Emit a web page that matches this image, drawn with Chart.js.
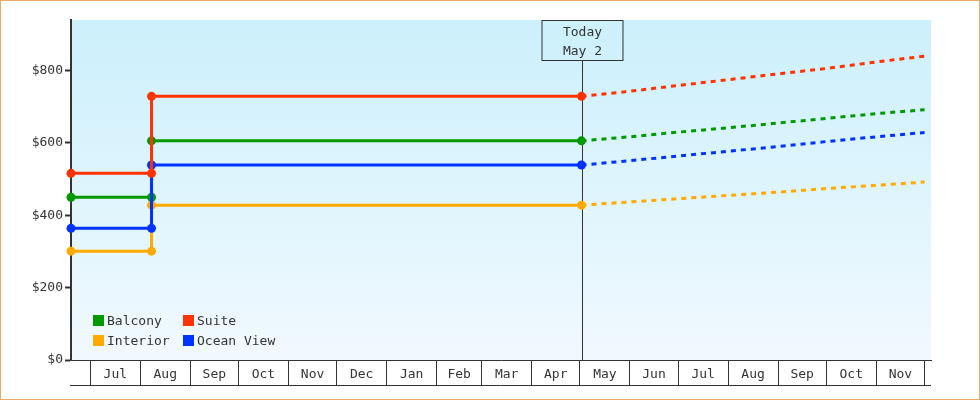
<!DOCTYPE html>
<html>
<head>
<meta charset="utf-8">
<title>Cabin prices</title>
<script src="https://cdn.jsdelivr.net/npm/chart.js@4.4.1/dist/chart.umd.min.js"></script>
<style>
  body { margin: 0; background: #fff; }
  #wrap { position: relative; width: 980px; height: 400px; }
</style>
</head>
<body>
<div id="wrap"><canvas id="myChart"></canvas></div>
<script>
'use strict';

//chart data
let seriesNames = ['Balcony', 'Suite', 'Interior', 'Ocean View'];
let seriesColors = ['#009900', '#ff3300', '#ffaa00', '#0033ff'];
let drawOrder = [2, 0, 3, 1];

let startDate = '2024-06-19';
let endDate = '2025-12-05';
let todayDate = '2025-05-02';
let todayLines = ['Today', 'May 2'];

// price history (solid) then forecast (dashed)
let priceDates = ['2024-06-19', '2024-08-08', '2024-08-08', '2025-05-02',
  '2025-06-01', '2025-07-01', '2025-08-01', '2025-09-01', '2025-10-01', '2025-11-01', '2025-12-01'];
let balconyPrices = [450, 450, 606, 606, 617, 630, 642, 655, 668, 681, 692];
let suitePrices = [516, 516, 729, 729, 743, 759, 775, 791, 806, 824, 840];
let interiorPrices = [301, 301, 428, 428, 437, 446, 455, 464, 474, 483, 492];
let oceanPrices = [364, 364, 539, 539, 551, 564, 577, 590, 604, 617, 629];

let monthStarts = ['2024-07-01', '2024-08-01', '2024-09-01', '2024-10-01', '2024-11-01', '2024-12-01',
  '2025-01-01', '2025-02-01', '2025-03-01', '2025-04-01', '2025-05-01', '2025-06-01',
  '2025-07-01', '2025-08-01', '2025-09-01', '2025-10-01', '2025-11-01', '2025-12-01'];
let monthLabels = ['Jul', 'Aug', 'Sep', 'Oct', 'Nov', 'Dec', 'Jan', 'Feb', 'Mar', 'Apr',
  'May', 'Jun', 'Jul', 'Aug', 'Sep', 'Oct', 'Nov'];
let yTicks = [0, 200, 400, 600, 800];
let yMax = 940;

let fontFamily = '"DejaVu Sans Mono", "Liberation Mono", monospace';
let inkColor = '#333333';

//turn yyyy-mm-dd into a day number
function toDay(str) {
  let parts = str.split('-');
  return Date.UTC(+parts[0], +parts[1] - 1, +parts[2]) / 86400000;
}

let today = toDay(todayDate);
let boundaryDays = monthStarts.map(toDay);

// month boundaries get a separator, mid points carry the label
let xTickList = [];
let midLabels = {};
for (let i = 0; i < boundaryDays.length; i++) {
  xTickList.push({ value: boundaryDays[i] });
  if (i < monthLabels.length) {
    let mid = (boundaryDays[i] + boundaryDays[i + 1]) / 2;
    midLabels[mid] = monthLabels[i];
    xTickList.push({ value: mid });
  }
}

function buildPoints(values) {
  let pts = [];
  for (let i = 0; i < values.length; i++) {
    pts.push({ x: toDay(priceDates[i]), y: values[i] });
  }
  return pts;
}

let allPrices = [balconyPrices, suitePrices, interiorPrices, oceanPrices];
let datasets = [];
for (let i = 0; i < seriesNames.length; i++) {
  datasets.push({
    label: seriesNames[i],
    data: buildPoints(allPrices[i]),
    order: drawOrder[i],
    clip: false,
    borderColor: seriesColors[i],
    backgroundColor: seriesColors[i],
    borderWidth: 3,
    pointBackgroundColor: seriesColors[i],
    pointBorderWidth: 0,
    pointStyle: 'circle',
    pointRadius: ctx => (ctx.raw && ctx.raw.x <= today ? 4.5 : 0),
    tension: 0,
    segment: {
      borderDash: ctx => (ctx.p0.parsed.x >= today ? [5, 5] : undefined)
    }
  });
}

// sky gradient, frame, today marker, legend and bottom rule
let decorations = {
  id: 'decorations',
  beforeDraw(chart) {
    let ctx = chart.ctx;
    let area = chart.chartArea;
    let grad = ctx.createLinearGradient(0, area.top, 0, area.bottom);
    grad.addColorStop(0, '#ccf0fc');
    grad.addColorStop(1, '#f1f9fe');
    ctx.save();
    ctx.fillStyle = grad;
    ctx.fillRect(area.left, area.top, area.right - area.left, area.bottom - area.top);
    ctx.restore();
  },
  beforeDatasetsDraw(chart) {
    let ctx = chart.ctx;
    let area = chart.chartArea;
    let x = Math.round(chart.scales.x.getPixelForValue(today)) + 0.5;
    let boxW = 81;
    let boxH = 40;
    ctx.save();
    ctx.strokeStyle = inkColor;
    ctx.lineWidth = 1;
    ctx.beginPath();
    ctx.moveTo(x, area.top + boxH);
    ctx.lineTo(x, area.bottom);
    ctx.stroke();
    ctx.strokeRect(x - boxW / 2, area.top + 0.5, boxW, boxH);
    ctx.fillStyle = inkColor;
    ctx.font = '13px ' + fontFamily;
    ctx.textAlign = 'center';
    ctx.textBaseline = 'middle';
    ctx.fillText(todayLines[0], x, area.top + 13);
    ctx.fillText(todayLines[1], x, area.top + 32);
    ctx.restore();
  },
  afterDraw(chart) {
    let ctx = chart.ctx;
    let area = chart.chartArea;
    ctx.save();
    // bottom rule under the month cells
    ctx.strokeStyle = inkColor;
    ctx.lineWidth = 1;
    ctx.beginPath();
    ctx.moveTo(area.left - 1, area.bottom + 25.5);
    ctx.lineTo(area.right, area.bottom + 25.5);
    ctx.stroke();
    // legend, two columns
    ctx.font = '13px ' + fontFamily;
    ctx.textBaseline = 'middle';
    ctx.textAlign = 'left';
    let colX = [area.left + 22, area.left + 112];
    let rowY = [area.bottom - 40, area.bottom - 20];
    for (let i = 0; i < seriesNames.length; i++) {
      let cx = colX[i % 2];
      let cy = rowY[Math.floor(i / 2)];
      ctx.fillStyle = seriesColors[i];
      ctx.fillRect(cx, cy - 5, 11, 11);
      ctx.fillStyle = inkColor;
      ctx.fillText(seriesNames[i], cx + 14, cy + 2);
    }
    // orange frame
    ctx.strokeStyle = '#e9aa66';
    ctx.strokeRect(0.5, 0.5, chart.width - 1, chart.height - 1);
    ctx.restore();
  }
};

let chartObject = {
  type: 'line',
  data: { datasets: datasets },
  options: {
    responsive: true,
    maintainAspectRatio: false,
    animation: false,
    events: [],
    layout: { padding: { top: 20, right: 49, left: 0, bottom: 0 } },
    plugins: {
      legend: { display: false },
      tooltip: { enabled: false }
    },
    scales: {
      x: {
        type: 'linear',
        min: toDay(startDate),
        max: toDay(endDate),
        afterBuildTicks: axis => { axis.ticks = xTickList.map(t => ({ value: t.value })); },
        afterFit: scale => { scale.height = 40; },
        border: { display: true, color: inkColor, width: 1 },
        grid: {
          drawOnChartArea: false,
          drawTicks: true,
          tickLength: 25,
          tickWidth: 1,
          tickColor: ctx => (ctx.tick && midLabels[ctx.tick.value] === undefined ? inkColor : 'rgba(0,0,0,0)')
        },
        ticks: {
          autoSkip: false,
          maxRotation: 0,
          minRotation: 0,
          padding: -18,
          color: inkColor,
          font: { family: fontFamily, size: 13 },
          callback: value => (midLabels[value] !== undefined ? midLabels[value] : '')
        }
      },
      y: {
        min: 0,
        max: yMax,
        afterBuildTicks: axis => { axis.ticks = yTicks.map(v => ({ value: v })); },
        afterFit: scale => { scale.width = 71; },
        border: { display: true, color: inkColor, width: 2 },
        grid: {
          drawOnChartArea: false,
          tickLength: 6,
          tickWidth: 2,
          tickColor: inkColor
        },
        ticks: {
          padding: 2,
          color: inkColor,
          font: { family: fontFamily, size: 13 },
          callback: value => '$' + value
        }
      }
    }
  },
  plugins: [decorations]
};

let ctx = document.getElementById('myChart').getContext('2d');
let myChart = new Chart(ctx, chartObject);
</script>
</body>
</html>
